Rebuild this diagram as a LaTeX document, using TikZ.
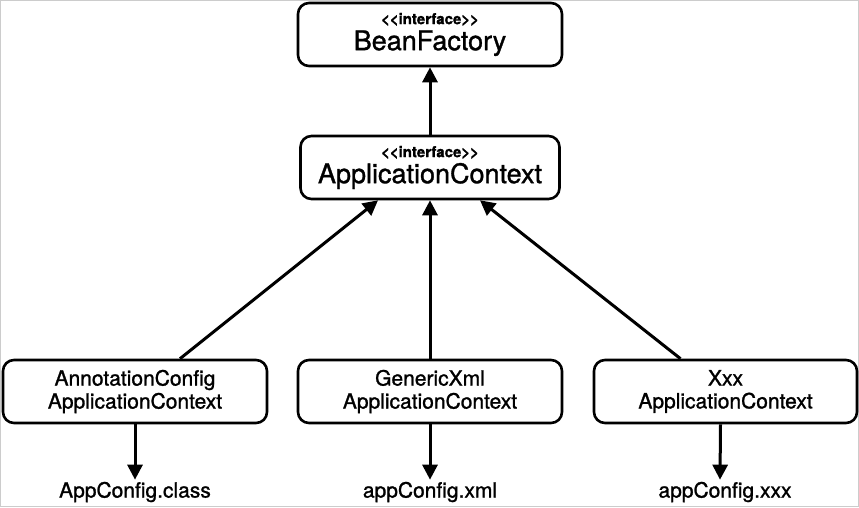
\documentclass[tikz,border=0pt]{standalone}
\usepackage{fontspec}
\setmainfont{TeX Gyre Heros}
\newfontfamily\medfont[FakeBold=1.2]{TeX Gyre Heros}
\usetikzlibrary{arrows.meta}

\begin{document}
\begin{tikzpicture}[x=1pt,y=-1pt,
  box/.style={draw,line width=2.6pt,rounded corners=11pt,minimum height=63pt,align=center,inner sep=0pt},
  arr/.style={line width=3pt,-{Triangle[length=15pt,width=15pt]}},
  big/.style={font=\medfont\fontsize{27}{26}\selectfont},
  mid/.style={font=\medfont\fontsize{21}{23}\selectfont}]

\useasboundingbox (0,0) rectangle (859,507);
\draw[gray!40,line width=1pt] (0.5,0.5) rectangle (858.5,506.5);

\node[box,big,minimum width=264pt] (bf) at (430,34.5) {{\bfseries\fontsize{15}{17}\selectfont <\kern0pt<interface>\kern0pt>}\\BeanFactory};
\node[box,big,minimum width=259pt] (ac) at (430,167.5) {{\bfseries\fontsize{15}{17}\selectfont <\kern0pt<interface>\kern0pt>}\\ApplicationContext};

\node[box,minimum width=264pt,mid] (ann) at (135,391.5) {AnnotationConfig\\ApplicationContext};
\node[box,minimum width=264pt,mid] (xml) at (430,391.5) {GenericXml\\ApplicationContext};
\node[box,minimum width=263pt,mid] (xxx) at (725.5,391.5) {Xxx\\ApplicationContext};

\node[mid,inner sep=2pt] (cls) at (135,492) {AppConfig.class};
\node[mid,inner sep=2pt] (cfx) at (430,492) {appConfig.xml};
\node[mid,inner sep=2pt] (cfo) at (725,492) {appConfig.xxx};

\draw [arr] (ac.north) -- (bf.south);
\draw [arr] ([xshift=45pt]ann.north) -- ([xshift=-52pt]ac.south);
\draw [arr] (xml.north) -- (ac.south);
\draw [arr] ([xshift=-45pt]xxx.north) -- ([xshift=50pt]ac.south);

\draw [arr] (ann.south) -- (cls.north);
\draw [arr] (xml.south) -- (cfx.north);
\draw [arr] ([xshift=-5pt]xxx.south) -- ([xshift=-5pt]cfo.north);

\end{tikzpicture}
\end{document}
